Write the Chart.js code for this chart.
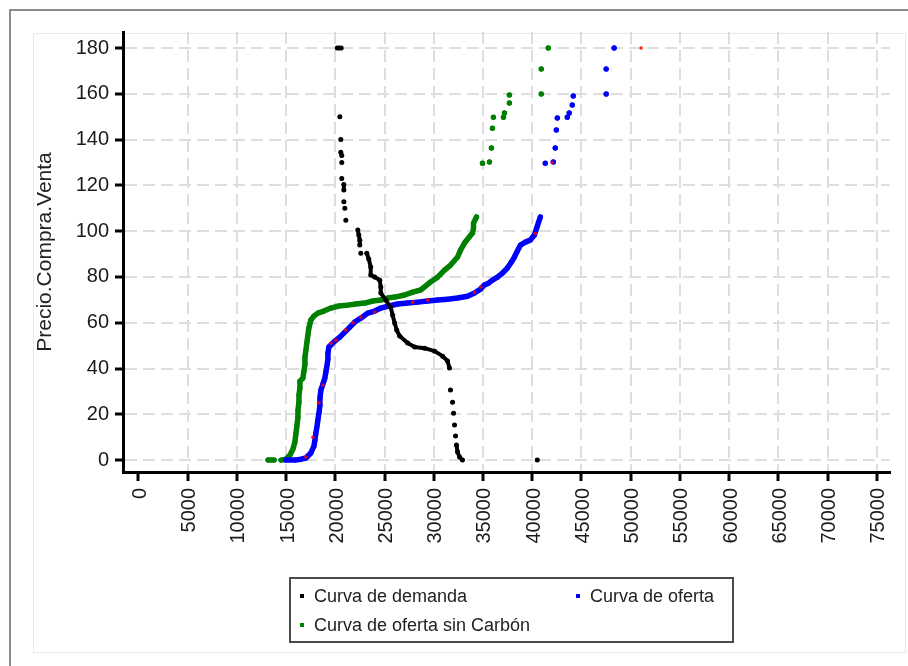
<!DOCTYPE html>
<html>
<head>
<meta charset="utf-8">
<script src="https://cdn.jsdelivr.net/npm/chart.js@4.4.1/dist/chart.umd.min.js"></script>
<style>
  html, body { margin: 0; padding: 0; background: #fff; overflow: hidden; }
  #wrap { position: relative; width: 908px; height: 666px; }
  #marco { position: absolute; left: 9px; top: 9px; width: 920px; height: 680px;
           border-top: 2px solid #8c8c8c; border-left: 2px solid #8c8c8c; }
  #panel { position: absolute; left: 33px; top: 33px; width: 871px; height: 618px;
           border: 1px solid #e2ecec; }
  canvas { position: absolute; left: 0; top: 0; }
  #leyenda { position: absolute; left: 289px; top: 577px; width: 432px; height: 58px;
             padding: 4px 0 0 9px; border: 2px solid #4a4a4a;
             display: grid; grid-template-columns: 276px auto;
             font: 18px 'Liberation Sans', Arial, sans-serif; line-height: 27px; color: #222; }
  #leyenda span.m { display: inline-block; width: 4px; height: 4px; margin-right: 10px;
                    vertical-align: middle; position: relative; top: -1px; }
</style>
</head>
<body>
<div id="wrap">
  <div id="marco"></div>
  <div id="panel"></div>
  <canvas id="grafico" width="908" height="666"></canvas>
  <div id="leyenda"></div>
</div>
<script>
// [cantidad, precio] - each inner list is one run of points that touch each other
const demandaTramos = [
  [[20200, 180], [20400, 180], [20600, 180]],
  [[20460, 150]], [[20560, 140]], [[20560, 134.5], [20660, 133]], [[20660, 130]],
  [[20660, 123]], [[20870, 120.4], [20870, 118]], [[20870, 112.8]], [[20970, 110]], [[21070, 104.8]],
  [[22290, 100.5], [22390, 98.3], [22490, 96], [22490, 94]],
  [[22590, 90.4]],
  [[23200, 90.4], [23400, 87.8], [23600, 84.3], [23600, 80.8], [24000, 80], [24515, 78.6],
   [24620, 75.6], [24620, 73], [25120, 69.9], [25630, 66.8], [25830, 63.3], [26030, 59.9],
   [26240, 56.8], [26540, 54.2], [27350, 51.1], [28060, 49.4], [29070, 48.9], [30090, 47.6],
   [30900, 45.4], [31400, 43.3], [31600, 40.2]],
  [[31700, 30.6]], [[31910, 25.3]], [[32010, 20.5]], [[32110, 15.3]], [[32210, 10.5]],
  [[32310, 6.6], [32420, 3.5], [32620, 1.3], [32920, 0]],
  [[40520, 0]]
];

const ofertaTramos = [
  [[14990, 0], [15900, 0], [16510, 0.4], [17020, 0.9], [17520, 3.1], [17830, 6.1], [17930, 8.7],
   [18030, 11.8], [18130, 14.4], [18230, 17.5], [18340, 20.5], [18440, 24], [18440, 27.1],
   [18540, 30.6], [18740, 33.2], [18940, 35.8], [19040, 38.4], [19150, 41.1], [19250, 44.1],
   [19250, 46.7], [19350, 49.4], [19650, 50.7], [20060, 52.4], [20460, 53.7], [20970, 55.9],
   [21480, 58.1], [21980, 60.3], [22590, 62], [23300, 64.2], [24010, 65.1], [24620, 66.4],
   [25430, 67.3], [26340, 68.2], [27350, 68.6], [28360, 69], [29380, 69.5], [30390, 69.9],
   [31400, 70.3], [32420, 70.8], [33430, 71.6], [34140, 73], [34750, 74.7], [35150, 76.5],
   [35560, 77.3], [35960, 78.6], [36470, 79.9], [36980, 81.7], [37480, 83.9], [37890, 86.5],
   [38190, 88.7], [38490, 91.3], [38800, 93.9], [39300, 95.2], [39810, 96.1], [40220, 98.3],
   [40520, 102.2], [40820, 106.2]],
  [[41330, 129.7]], [[42140, 130.2]], [[42340, 136.3]], [[42450, 144.2]], [[42550, 149.4]],
  [[43560, 149.8]], [[43760, 151.6]], [[44070, 155.1]], [[44170, 159]],
  [[47510, 159.9]], [[47510, 170.8]], [[48320, 180]]
];

const sinCarbonTramos = [
  [[13170, 0], [13780, 0]],
  [[14490, 0], [14990, 0.4], [15400, 2.2], [15700, 4.8], [15900, 7.9], [16010, 11.8],
   [16110, 15.3], [16210, 18.8], [16210, 21.8], [16310, 25.3], [16310, 28.4], [16410, 31.5],
   [16410, 34.5], [16710, 35.8], [16820, 38.9], [16920, 41.9], [16920, 45], [17020, 48.1],
   [17120, 51.6], [17220, 54.6], [17320, 57.7], [17520, 61.2], [17830, 62.9], [18230, 64.2],
   [18840, 65.1], [19550, 66.4], [20360, 67.3], [21270, 67.7], [22080, 68.2], [22990, 68.6],
   [23810, 69.5], [24620, 69.9], [25330, 70.8], [26030, 71.2], [27050, 72.1], [27860, 73.4],
   [28670, 74.3], [29170, 76], [29680, 77.8], [30390, 79.9], [31100, 83], [31710, 85.2],
   [32420, 88.7], [32720, 91.7], [33120, 94.8], [33530, 97], [33940, 99.2], [34040, 101.4],
   [34040, 103.5], [34340, 106.2]],
  [[34950, 129.7]], [[35660, 130.2]], [[35860, 136.3]], [[35960, 145]], [[36060, 149.8]],
  [[37080, 149.8]], [[37180, 151.6]], [[37680, 156]], [[37680, 159.5]],
  [[40920, 159.9]], [[40920, 170.8]], [[41630, 180]]
];

const marcasRojas = [
  [17020, 1.3], [17730, 10], [18340, 25], [18740, 32.8], [19550, 51], [20060, 52.4],
  [21070, 56.8], [21780, 60], [22590, 62.5], [24010, 64.7], [25530, 67.7], [27860, 69],
  [29380, 69.9], [34140, 73.2], [34750, 75.6], [40320, 99], [42040, 130], [51060, 180]
];

const xTicks = [0, 5000, 10000, 15000, 20000, 25000, 30000, 35000, 40000,
                45000, 50000, 55000, 60000, 65000, 70000, 75000];
const yTicks = [0, 20, 40, 60, 80, 100, 120, 140, 160, 180];

function aPuntos(tramos) {
  const out = [];
  tramos.forEach((t, i) => {
    if (i > 0) out.push({ x: null, y: null });
    t.forEach(p => out.push({ x: p[0], y: p[1] }));
  });
  return out;
}

function serie(label, tramos, color, ancho, orden) {
  return {
    label: label,
    data: aPuntos(tramos),
    showLine: true,
    spanGaps: false,
    borderColor: color,
    backgroundColor: color,
    borderWidth: ancho,
    borderCapStyle: 'round',
    borderJoinStyle: 'round',
    pointRadius: 2.5,
    pointBorderWidth: 0,
    order: orden
  };
}

Chart.defaults.font.family = "'Liberation Sans', Arial, sans-serif";

const grid = '#dedede';
const chart = new Chart(document.getElementById('grafico'), {
  type: 'scatter',
  data: {
    datasets: [
      serie('Curva de demanda', demandaTramos, '#000000', 4, 0),
      serie('Curva de oferta', ofertaTramos, '#0000ff', 5.5, 2),
      serie('Curva de oferta sin Carbón', sinCarbonTramos, '#008000', 5.5, 3),
      {
        label: '',
        data: marcasRojas.map(p => ({ x: p[0], y: p[1] })),
        backgroundColor: 'rgba(255,0,0,0.85)',
        borderColor: 'rgba(255,0,0,0.85)',
        pointRadius: 1.8,
        pointBorderWidth: 0,
        order: 1
      }
    ]
  },
  options: {
    responsive: false,
    animation: false,
    events: [],
    layout: { padding: { left: 33, top: 32, right: 11, bottom: 114 } },
    plugins: { legend: { display: false }, tooltip: { enabled: false } },
    scales: {
      x: {
        type: 'linear',
        min: -1560,
        max: 76310,
        afterBuildTicks: s => { s.ticks = xTicks.map(v => ({ value: v })); },
        afterFit: s => { s.height = 80; },
        ticks: {
          autoSkip: false, maxRotation: 90, minRotation: 90, padding: 7, labelOffset: 2,
          color: '#1a1a1a', font: { size: 20 },
          callback: v => String(v)
        },
        grid: {
          color: c => (c.tick && c.tick.value === 0 ? 'rgba(0,0,0,0)' : grid),
          lineWidth: 2, tickLength: 9, tickColor: '#000', tickWidth: 3, tickBorderDash: []
        },
        border: { color: '#000', width: 3, dash: [12, 6] }
      },
      y: {
        min: -5.2,
        max: 187,
        afterBuildTicks: s => { s.ticks = yTicks.map(v => ({ value: v })); },
        afterFit: s => { s.width = 90; },
        ticks: { padding: 6, color: '#1a1a1a', font: { size: 20 }, callback: v => String(v) },
        title: { display: true, text: 'Precio.Compra.Venta', color: '#222', font: { size: 21 }, padding: 0 },
        grid: { color: grid, lineWidth: 2, tickLength: 8, tickColor: '#000', tickWidth: 3, tickBorderDash: [] },
        border: { color: '#000', width: 3, dash: [12, 6] }
      }
    }
  }
});

// legend box, two columns like the original
const leyenda = document.getElementById('leyenda');
chart.data.datasets.filter(d => d.label).forEach(d => {
  const item = document.createElement('div');
  const m = document.createElement('span');
  m.className = 'm';
  m.style.background = d.backgroundColor;
  item.appendChild(m);
  item.appendChild(document.createTextNode(d.label));
  leyenda.appendChild(item);
});
</script>
</body>
</html>
